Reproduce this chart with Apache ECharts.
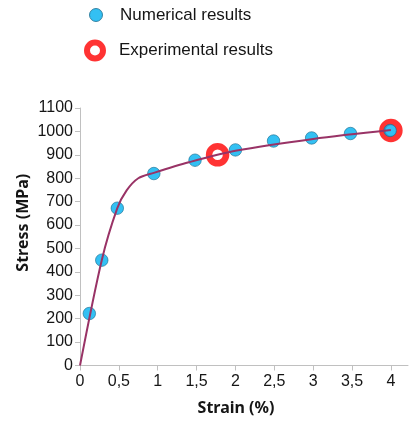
<!DOCTYPE html>
<html>
<head>
<meta charset="utf-8">
<script src="https://cdn.jsdelivr.net/npm/echarts@6/dist/echarts.min.js"></script>
<style>
  html, body { margin: 0; padding: 0; background: #ffffff; }
  #chart { width: 409px; height: 423px; }
</style>
</head>
<body>
<div id="chart"></div>
<script>
// Simulated stress-strain points
const numericalStrain = [0.12, 0.28, 0.48, 0.95, 1.48, 2.0, 2.49, 2.98, 3.48, 3.99];
const numericalStress = [222, 450, 672, 820, 877, 921, 959, 972, 991, 1004];

// Measured stress-strain points
const experimentalStrain = [1.77, 4.0];
const experimentalStress = [900, 1004];

// Fitted material curve
const curveStrain = [0, 0.28, 0.48, 0.6, 0.75, 0.95, 1.4, 2.0, 3.0, 4.0];
const curveStress = [0, 450, 672, 748, 800, 823, 868, 917, 968, 1006];

// Axis ticks
const strainTicks = [0, 0.5, 1, 1.5, 2, 2.5, 3, 3.5, 4];
const stressTicks = [0, 100, 200, 300, 400, 500, 600, 700, 800, 900, 1000, 1100];

const pairs = (xs, ys) => xs.map((x, i) => [x, ys[i]]);

const axisGrey = '#c0c0c0';
const textColor = '#151515';
const tickFont = { fontFamily: 'Liberation Sans', fontSize: 16, color: textColor };
const legendFont = { fontFamily: 'Liberation Sans', fontSize: 17, color: textColor };
const titleFont = { fontFamily: 'Noto Sans', fontWeight: 'bold', fontSize: 16, color: textColor };

const chart = echarts.init(document.getElementById('chart'), null, { renderer: 'canvas' });

chart.setOption({
  animation: false,
  backgroundColor: '#ffffff',
  grid: { left: 80, top: 108, width: 328, height: 257.5, containLabel: false, outerBoundsMode: 'none' },
  legend: [
    {
      data: [{ name: 'Numerical results' }],
      left: 84, top: 1.5, orient: 'vertical',
      itemWidth: 38, itemHeight: 13, selectedMode: false,
      itemStyle: { borderWidth: 1 },
      textStyle: Object.assign({}, legendFont, { lineHeight: 13 })
    },
    {
      data: [{ name: 'Experimental results' }],
      left: 79, top: 34.5, orient: 'vertical',
      itemWidth: 38, itemHeight: 16, selectedMode: false,
      itemStyle: { borderWidth: 6 },
      textStyle: Object.assign({}, legendFont, { lineHeight: 16 })
    }
  ],
  xAxis: {
    type: 'value',
    min: 0, max: 4.22,
    name: 'Strain (%)',
    nameLocation: 'middle',
    nameGap: 35,
    nameMoveOverlap: false,
    nameTextStyle: Object.assign({}, titleFont, { padding: [0, 16, 0, 0] }),
    axisLine: { show: true, lineStyle: { color: axisGrey, width: 1 } },
    axisTick: { show: true, length: 5, customValues: strainTicks, lineStyle: { color: axisGrey } },
    axisLabel: Object.assign({}, tickFont, {
      margin: 8,
      customValues: strainTicks,
      formatter: v => String(v).replace('.', ',')
    }),
    splitLine: { show: false }
  },
  yAxis: {
    type: 'value',
    min: 0, max: 1100, interval: 100,
    name: 'Stress (MPa)',
    nameLocation: 'middle',
    nameRotate: 90,
    nameGap: 49,
    nameMoveOverlap: false,
    nameTextStyle: Object.assign({}, titleFont, { padding: [0, 0, 0, 28] }),
    axisLine: { show: true, lineStyle: { color: axisGrey, width: 1 } },
    axisTick: { show: true, length: 5, lineStyle: { color: axisGrey } },
    axisLabel: Object.assign({}, tickFont, {
      margin: 7,
      customValues: stressTicks,
      formatter: v => String(v)
    }),
    splitLine: { show: false }
  },
  series: [
    {
      name: 'Curve',
      type: 'line',
      data: pairs(curveStrain, curveStress),
      smooth: 0.3,
      showSymbol: false,
      symbol: 'none',
      lineStyle: { color: '#993366', width: 2 },
      emphasis: { disabled: true },
      silent: true
    },
    {
      name: 'Experimental results',
      type: 'scatter',
      data: pairs(experimentalStrain, experimentalStress),
      symbol: 'circle',
      symbolSize: 17,
      itemStyle: { color: 'rgba(255,255,255,0)', borderColor: '#ff0000', borderWidth: 6.5 },
      emphasis: { disabled: true },
      silent: true
    },
    {
      name: 'Numerical results',
      type: 'scatter',
      data: pairs(numericalStrain, numericalStress),
      symbol: 'circle',
      symbolSize: 12.5,
      itemStyle: { color: '#00b0f0', borderColor: '#1b6d8e', borderWidth: 0.8 },
      emphasis: { disabled: true },
      silent: true
    }
  ]
});
</script>
</body>
</html>
